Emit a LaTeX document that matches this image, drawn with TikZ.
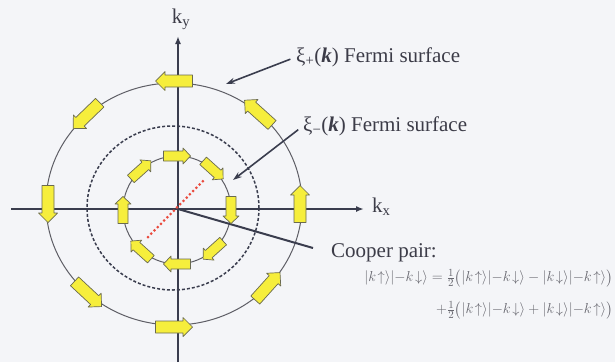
\documentclass[tikz,border=0pt]{standalone}
\usepackage{amsmath}
\usepackage{fontspec}
\setmainfont{Liberation Serif}
\usetikzlibrary{arrows.meta}
\definecolor{bgc}{HTML}{F4F5F8}
\definecolor{axc}{HTML}{3A3D4E}
\definecolor{circc}{HTML}{5E5E66}
\definecolor{yel}{HTML}{F6EE3C}
\definecolor{yeld}{HTML}{6A6A50}
\definecolor{txt}{HTML}{3C3C48}
\definecolor{eqc}{HTML}{66666E}
\definecolor{dotred}{HTML}{EA4A3E}
\begin{document}
\begin{tikzpicture}[x=1pt,y=-1pt,
  blkfill/.style={draw=yeld, fill=yel, line width=0.7pt, line join=round},
  pics/bigarrow/.style={code={\path[blkfill] (-18.5,-6) -- (9,-6) -- (9,-9.5) -- (18.5,0) -- (9,9.5) -- (9,6) -- (-18.5,6) -- cycle;}},
  pics/smallarrow/.style={code={\path[blkfill] (-13.5,-5) -- (6,-5) -- (6,-8) -- (13.5,0) -- (6,8) -- (6,5) -- (-13.5,5) -- cycle;}},
  lbl/.style={font=\fontsize{21}{23}\selectfont, text=txt, inner sep=0pt},
  axis/.style={draw=axc, line width=2pt, -{Latex[length=8pt,width=6pt]}},
  pointer/.style={draw=axc, line width=1.6pt, -{Stealth[length=9pt,width=6pt]}},
  eqn/.style={font=\fontsize{15.5}{17}\selectfont, text=eqc, inner sep=0pt, anchor=east}]
\fill[bgc] (0,0) rectangle (615,362);
\useasboundingbox (0,0) rectangle (615,362);
% circles
\draw[circc, line width=1pt] (174,204) ellipse [x radius=128, y radius=121];
\draw[axc, line width=1.5pt, dash pattern=on 3pt off 2pt] (173,208) ellipse [x radius=86, y radius=82];
\draw[circc, line width=1pt] (177,210) circle [radius=54];
% axes
\coordinate (O) at (178,209);
\coordinate (xs) at (11,209);
\coordinate (xe) at (364,209);
\coordinate (ys) at (178,362);
\coordinate (ye) at (178,36);
\draw[axis] (xs) -- (xe);
\draw[axis] (ys) -- (ye);
\node[lbl, anchor=west] (kx) at (372,207) {k\textsubscript{x}};
\node[lbl, anchor=south] (ky) at (181,30) {k\textsubscript{y}};
% cooper pair
\coordinate (r1) at (148,237);
\coordinate (r2) at (203,181);
\draw[dotred, line width=3pt, line cap=round, dash pattern=on 0pt off 4.6pt] (r1) -- (r2);
\coordinate (cpend) at (313,248);
\draw[axc, line width=2pt] (O) -- (cpend);
% arrows on outer circle (counterclockwise)
\foreach \a in {0,48,90,134,180,227,270,318}
  \pic[rotate=\a+90] at ({174+126*cos(\a)},{204-123*sin(\a)}) {bigarrow};
% arrows on inner circle (clockwise)
\foreach \a in {0,48,90,132,180,228,270,312}
  \pic[rotate=\a-90] at ({177+54*cos(\a)},{210-54*sin(\a)}) {smallarrow};
% labels
\node[lbl, anchor=west] (xip) at (296,57) {ξ\textsubscript{+}(\textbf{\textit{k}}) Fermi surface};
\node[lbl, anchor=west] (xim) at (303,126) {ξ\textsubscript{\textminus}(\textbf{\textit{k}}) Fermi surface};
\coordinate (tipP) at (226,84);
\coordinate (tipM) at (233,180);
\draw[pointer, shorten <=6pt] (xip.west) -- (tipP);
\draw[pointer, shorten <=6pt] (xim.west) -- (tipM);
\node[lbl, anchor=west] (cp) at (331,253) {Cooper pair:};
\node[eqn] (eq1) at (613,278) {$\lvert k\!\uparrow\rangle\lvert -k\!\downarrow\rangle=\frac{1}{2}\bigl(\lvert k\!\uparrow\rangle\lvert -k\!\downarrow\rangle-\lvert k\!\downarrow\rangle\lvert -k\!\uparrow\rangle\bigr)$};
\node[eqn] (eq2) at (613,310) {$+\frac{1}{2}\bigl(\lvert k\!\uparrow\rangle\lvert -k\!\downarrow\rangle+\lvert k\!\downarrow\rangle\lvert -k\!\uparrow\rangle\bigr)$};
\end{tikzpicture}
\end{document}
